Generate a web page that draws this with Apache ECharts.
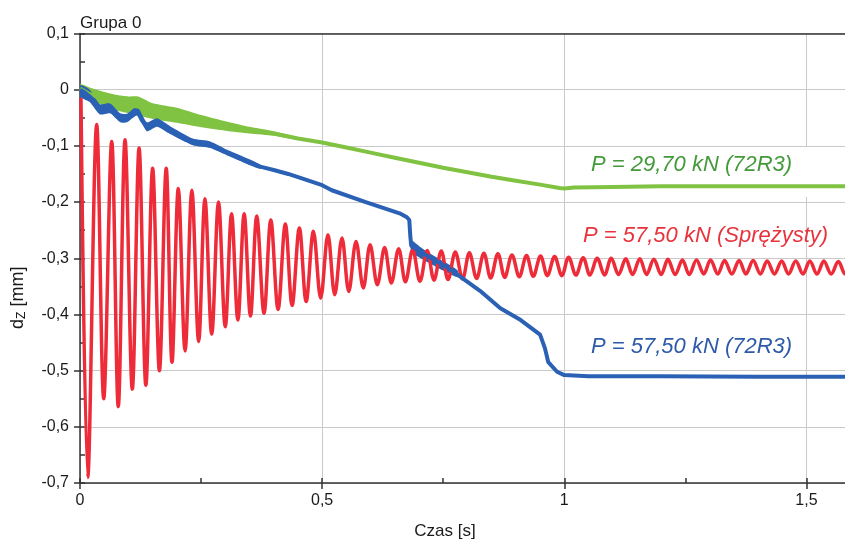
<!DOCTYPE html>
<html>
<head>
<meta charset="utf-8">
<script src="https://cdn.jsdelivr.net/npm/echarts@6/dist/echarts.min.js"></script>
<style>
  html, body { margin: 0; padding: 0; background: #ffffff; }
  #chart { width: 845px; height: 540px; }
</style>
</head>
<body>
<div id="chart"></div>
<script>
// Axis ranges and tick steps
const xRange = [0, 1.59];
const yRange = [-0.7, 0.1];
const xMajorStep = 0.5;
const yMajorStep = 0.1;

// Series labels
const labelGreen = 'P = 29,70 kN (72R3)';
const labelRed = 'P = 57,50 kN (Sprężysty)';
const labelBlue = 'P = 57,50 kN (72R3)';

// Czas [s], d_Z [mm] — elastic reference, alternating peaks and troughs
const sprezysty = [
  [0.002, -0.015], [0.016, -0.690], [0.0345, -0.062], [0.049, -0.550], [0.0655, -0.092],
  [0.079, -0.564], [0.093, -0.089], [0.108, -0.533], [0.122, -0.104], [0.136, -0.526],
  [0.150, -0.140], [0.164, -0.500], [0.178, -0.140], [0.190, -0.485], [0.203, -0.176],
  [0.217, -0.465], [0.231, -0.179], [0.245, -0.448], [0.258, -0.194], [0.272, -0.435],
  [0.286, -0.200], [0.300, -0.422], [0.313, -0.221], [0.326, -0.410], [0.339, -0.221],
  [0.352, -0.403], [0.365, -0.225], [0.380, -0.398], [0.394, -0.232], [0.409, -0.391],
  [0.424, -0.239], [0.438, -0.384], [0.453, -0.246], [0.467, -0.377], [0.482, -0.252],
  [0.497, -0.371], [0.512, -0.258], [0.526, -0.365], [0.541, -0.264], [0.555, -0.359],
  [0.570, -0.270], [0.585, -0.353], [0.599, -0.276], [0.614, -0.347], [0.629, -0.281],
  [0.643, -0.344], [0.658, -0.283], [0.672, -0.342], [0.687, -0.285], [0.702, -0.341],
  [0.717, -0.286], [0.731, -0.339], [0.746, -0.287], [0.760, -0.338], [0.775, -0.289],
  [0.790, -0.337], [0.804, -0.290], [0.819, -0.336], [0.834, -0.291], [0.848, -0.335],
  [0.863, -0.292], [0.877, -0.334], [0.892, -0.294], [0.907, -0.333], [0.922, -0.295],
  [0.936, -0.332], [0.951, -0.296], [0.965, -0.331], [0.980, -0.297], [0.995, -0.331],
  [1.009, -0.298], [1.024, -0.330], [1.039, -0.299], [1.053, -0.330], [1.068, -0.300],
  [1.083, -0.330], [1.097, -0.300], [1.112, -0.329], [1.127, -0.301], [1.141, -0.329],
  [1.156, -0.301], [1.170, -0.329], [1.185, -0.302], [1.200, -0.329], [1.214, -0.302],
  [1.229, -0.329], [1.244, -0.303], [1.258, -0.329], [1.273, -0.303], [1.288, -0.328],
  [1.302, -0.303], [1.317, -0.328], [1.331, -0.304], [1.346, -0.328], [1.361, -0.304],
  [1.375, -0.328], [1.390, -0.304], [1.405, -0.328], [1.419, -0.305], [1.434, -0.328],
  [1.449, -0.305], [1.463, -0.328], [1.478, -0.305], [1.493, -0.328], [1.507, -0.305],
  [1.522, -0.328], [1.536, -0.305], [1.551, -0.328], [1.566, -0.306], [1.580, -0.328],
  [1.595, -0.306]
];

// 72R3 at 29,70 kN
const r72low = [
  [0.000, 0.002], [0.020, -0.008], [0.050, -0.018], [0.080, -0.025], [0.100, -0.028],
  [0.120, -0.030], [0.150, -0.038], [0.200, -0.046], [0.250, -0.056], [0.300, -0.065],
  [0.350, -0.072], [0.400, -0.078], [0.450, -0.087], [0.500, -0.094], [0.550, -0.103],
  [0.600, -0.112], [0.650, -0.121], [0.700, -0.130], [0.750, -0.139], [0.800, -0.147],
  [0.850, -0.155], [0.900, -0.162], [0.950, -0.169], [0.990, -0.175], [1.000, -0.176],
  [1.020, -0.174], [1.100, -0.173], [1.200, -0.172], [1.300, -0.172], [1.400, -0.172],
  [1.500, -0.172], [1.595, -0.172]
];
// noise envelope of the 29,70 kN trace at the start
const r72lowUpper = [
  [0.000, 0.010], [0.020, 0.004], [0.050, -0.004], [0.080, -0.010], [0.100, -0.012],
  [0.120, -0.012], [0.150, -0.024], [0.200, -0.032], [0.250, -0.045], [0.300, -0.056],
  [0.350, -0.066], [0.400, -0.074], [0.450, -0.085]
];
const r72lowLower = [
  [0.000, -0.008], [0.020, -0.017], [0.050, -0.029], [0.080, -0.038], [0.100, -0.042],
  [0.120, -0.046], [0.150, -0.052], [0.200, -0.059], [0.250, -0.067], [0.300, -0.073],
  [0.350, -0.078], [0.400, -0.082], [0.450, -0.089]
];

// 72R3 at 57,50 kN
const r72high = [
  [0.000, 0.000], [0.010, -0.005], [0.020, -0.012], [0.030, -0.020], [0.041, -0.035],
  [0.050, -0.040], [0.062, -0.033], [0.072, -0.042], [0.083, -0.050], [0.097, -0.050],
  [0.108, -0.045], [0.118, -0.037], [0.128, -0.055], [0.138, -0.066], [0.148, -0.063],
  [0.159, -0.058], [0.170, -0.066], [0.186, -0.072], [0.200, -0.080], [0.215, -0.088],
  [0.233, -0.093], [0.250, -0.095], [0.269, -0.098], [0.285, -0.105], [0.304, -0.112],
  [0.330, -0.122], [0.350, -0.130], [0.372, -0.137], [0.400, -0.143], [0.430, -0.150],
  [0.455, -0.157], [0.500, -0.170], [0.520, -0.179], [0.590, -0.200], [0.660, -0.220],
  [0.675, -0.227], [0.680, -0.232], [0.682, -0.260], [0.684, -0.278], [0.700, -0.287],
  [0.760, -0.317], [0.826, -0.358], [0.868, -0.389], [0.910, -0.410], [0.950, -0.436],
  [0.960, -0.460], [0.967, -0.485], [0.985, -0.502], [1.000, -0.508], [1.050, -0.510],
  [1.200, -0.510], [1.400, -0.511], [1.595, -0.511]
];
// noise envelope of the 57,50 kN trace
const r72highUpper = [
  [0.000, 0.008], [0.020, 0.000], [0.041, -0.026], [0.062, -0.024], [0.083, -0.042],
  [0.097, -0.043], [0.118, -0.030], [0.138, -0.058], [0.159, -0.051], [0.186, -0.065],
  [0.233, -0.087], [0.269, -0.092], [0.304, -0.107], [0.372, -0.133]
];
const r72highLower = [
  [0.000, -0.012], [0.020, -0.022], [0.041, -0.044], [0.062, -0.042], [0.083, -0.058],
  [0.097, -0.058], [0.118, -0.046], [0.138, -0.074], [0.159, -0.066], [0.186, -0.079],
  [0.233, -0.099], [0.269, -0.104], [0.304, -0.117], [0.372, -0.141]
];
const r72highStepUpper = [[0.684, -0.268], [0.700, -0.278], [0.720, -0.290], [0.750, -0.305], [0.780, -0.322]];
const r72highStepLower = [[0.684, -0.290], [0.700, -0.298], [0.720, -0.308], [0.750, -0.322], [0.780, -0.334]];

const GREEN = '#80c342';
const BLUE = '#2a61b5';
const RED = '#ee2b38';

function fmt(v) {
  if (Math.abs(v) < 1e-9) return '0';
  const s = (Math.round(v * 10) / 10).toString();
  return s.replace('.', ',');
}
function isMultiple(v, step) {
  const k = v / step;
  return Math.abs(k - Math.round(k)) < 1e-6;
}

function band(upper, lower, color) {
  return {
    type: 'custom',
    xAxisIndex: 0,
    yAxisIndex: 0,
    silent: true,
    clip: true,
    data: [upper[0]],
    encode: { x: 0, y: 1 },
    renderItem: function (params, api) {
      const pts = upper.map(p => api.coord(p))
        .concat(lower.slice().reverse().map(p => api.coord(p)));
      return { type: 'polygon', shape: { points: pts, smooth: 0.2 }, style: { fill: color } };
    }
  };
}

function line(data, color, width, smooth) {
  return {
    type: 'line',
    xAxisIndex: 0,
    yAxisIndex: 0,
    data: data,
    showSymbol: false,
    symbol: 'none',
    smooth: smooth,
    lineStyle: { color: color, width: width },
    silent: true
  };
}

const chart = echarts.init(document.getElementById('chart'), null, { renderer: 'canvas' });
const axisFont = { fontFamily: 'Liberation Sans, Arial, sans-serif', fontSize: 16, color: '#1a1a1a' };
const axisDark = { color: '#333333', width: 1.5 };

chart.setOption({
  animation: false,
  backgroundColor: '#ffffff',
  grid: { left: 80, width: 770, top: 33.5, bottom: 57, containLabel: false, outerBoundsMode: 'none' },
  xAxis: [
    {
      type: 'value', min: xRange[0], max: xRange[1], interval: 0.25, position: 'bottom',
      axisLine: { show: true, onZero: false, lineStyle: axisDark },
      axisTick: { show: true, inside: true, length: 5, lineStyle: axisDark },
      axisLabel: Object.assign({ margin: 10, formatter: v => isMultiple(v, xMajorStep) ? fmt(v) : '' }, axisFont),
      splitLine: { show: false }
    },
    {
      type: 'value', min: xRange[0], max: xRange[1], interval: xMajorStep, position: 'bottom',
      axisLine: { show: false, onZero: false },
      axisTick: { show: true, inside: false, length: 6, lineStyle: axisDark },
      axisLabel: { show: false },
      splitLine: { show: true, lineStyle: { color: '#c9c9c9', width: 1 } }
    },
    {
      type: 'value', min: xRange[0], max: xRange[1], position: 'top',
      axisLine: { show: true, onZero: false, lineStyle: axisDark },
      axisTick: { show: false }, axisLabel: { show: false }, splitLine: { show: false }
    }
  ],
  yAxis: [
    {
      type: 'value', min: yRange[0], max: yRange[1], interval: 0.05, position: 'left',
      axisLine: { show: true, onZero: false, lineStyle: axisDark },
      axisTick: { show: true, inside: true, length: 5, lineStyle: axisDark },
      axisLabel: Object.assign({ margin: 11, formatter: v => isMultiple(v, yMajorStep) ? fmt(v) : '' }, axisFont),
      splitLine: { show: false }
    },
    {
      type: 'value', min: yRange[0], max: yRange[1], interval: yMajorStep, position: 'left',
      axisLine: { show: false, onZero: false },
      axisTick: { show: true, inside: false, length: 6, lineStyle: axisDark },
      axisLabel: { show: false },
      splitLine: { show: true, lineStyle: { color: '#c9c9c9', width: 1 } }
    }
  ],
  series: [
    line(sprezysty, RED, 3.5, 0.35),
    band(r72lowUpper, r72lowLower, GREEN),
    line(r72low, GREEN, 4, false),
    band(r72highUpper, r72highLower, BLUE),
    band(r72highStepUpper, r72highStepLower, BLUE),
    line(r72high, BLUE, 4, false)
  ],
  graphic: [
    { type: 'rect', z: 1, silent: true, shape: { x: 580, y: 147, width: 270, height: 50 }, style: { fill: '#ffffff' } },
    { type: 'text', z: 5, x: 80, y: 23, style: { text: 'Grupa 0', font: '17px "Liberation Sans", Arial, sans-serif', fill: '#1a1a1a', textVerticalAlign: 'middle' } },
    { type: 'text', z: 5, x: 445, y: 531, style: { text: 'Czas [s]', font: '17px "Liberation Sans", Arial, sans-serif', fill: '#1a1a1a', textAlign: 'center', textVerticalAlign: 'middle' } },
    {
      type: 'group', z: 5, x: 18, y: 298, rotation: Math.PI / 2,
      children: [
        { type: 'text', x: -31, y: 0, style: { text: 'd', font: '18px "Liberation Sans", Arial, sans-serif', fill: '#1a1a1a', textVerticalAlign: 'middle' } },
        { type: 'text', x: -21, y: 4, style: { text: 'Z', font: '12px "Liberation Sans", Arial, sans-serif', fill: '#1a1a1a', textVerticalAlign: 'middle' } },
        { type: 'text', x: -13.5, y: 0, style: { text: ' [mm]', font: '18px "Liberation Sans", Arial, sans-serif', fill: '#1a1a1a', textVerticalAlign: 'middle' } }
      ]
    },
    { type: 'text', z: 5, x: 591, y: 165, style: { text: labelGreen, font: 'italic 22px "Liberation Sans", Arial, sans-serif', fill: '#44993a', textVerticalAlign: 'middle' } },
    { type: 'text', z: 5, x: 583, y: 236, style: { text: labelRed, font: 'italic 22px "Liberation Sans", Arial, sans-serif', fill: '#e8333d', textVerticalAlign: 'middle' } },
    { type: 'text', z: 5, x: 591, y: 347, style: { text: labelBlue, font: 'italic 22px "Liberation Sans", Arial, sans-serif', fill: '#2d5aa8', textVerticalAlign: 'middle' } }
  ]
});
</script>
</body>
</html>
